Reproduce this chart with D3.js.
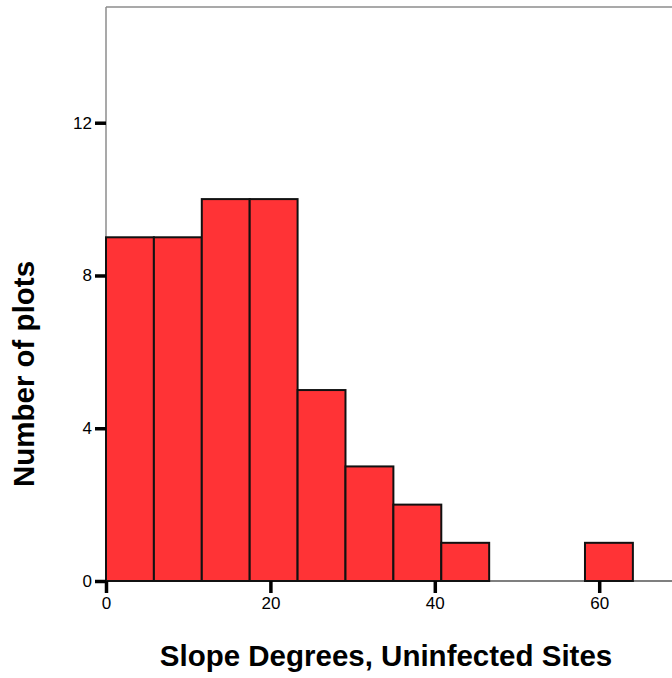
<!DOCTYPE html>
<html>
<head>
<meta charset="utf-8">
<script src="https://cdn.jsdelivr.net/npm/d3@7"></script>
<style>
  html, body { margin: 0; padding: 0; background: #fff; }
  svg { display: block; font-family: "Liberation Sans", Arial, Helvetica, sans-serif; }
</style>
</head>
<body>
<svg id="chart" width="672" height="678"></svg>
<script>
// Histogram of slope degrees at uninfected sites
const binWidth = 5.827;
const binStarts = [0, 1, 2, 3, 4, 5, 6, 7, 8, 9, 10].map(i => i * binWidth);
const counts = [9, 9, 10, 10, 5, 3, 2, 1, 0, 0, 1];
const xTicks = [0, 20, 40, 60];
const yTicks = [0, 4, 8, 12];
const xTitle = "Slope Degrees, Uninfected Sites";
const yTitle = "Number of plots";

const svg = d3.select("#chart");
const plotLeft = 106, plotBottom = 581, plotTop = 7;
const pxPerUnit = 8.22;
const xMax = 70;

const x = d3.scaleLinear().domain([0, xMax]).range([plotLeft, plotLeft + xMax * pxPerUnit]);
const y = d3.scaleLinear().domain([0, 15.03]).range([plotBottom, plotTop]);

// Plot frame
svg.append("line").attr("x1", plotLeft).attr("x2", 680).attr("y1", plotTop).attr("y2", plotTop)
  .attr("stroke", "#8c8c8c").attr("stroke-width", 1.5);
svg.append("line").attr("x1", plotLeft).attr("x2", plotLeft).attr("y1", plotTop).attr("y2", plotBottom)
  .attr("stroke", "#8c8c8c").attr("stroke-width", 1.5);
svg.append("line").attr("x1", plotLeft).attr("x2", 680).attr("y1", plotBottom).attr("y2", plotBottom)
  .attr("stroke", "#555").attr("stroke-width", 1.5);

// Bars
const bins = binStarts.map((s, i) => ({ x0: s, x1: s + binWidth, n: counts[i] })).filter(d => d.n > 0);
svg.append("g").selectAll("rect").data(bins).join("rect")
  .attr("x", d => x(d.x0))
  .attr("y", d => y(d.n))
  .attr("width", d => x(d.x1) - x(d.x0))
  .attr("height", d => y(0) - y(d.n))
  .attr("fill", "#ff3336")
  .attr("stroke", "#111")
  .attr("stroke-width", 2);

// Axes
const xAxis = svg.append("g").attr("transform", `translate(0,${plotBottom})`)
  .call(d3.axisBottom(x).tickValues(xTicks).tickSize(12).tickPadding(4).tickFormat(d3.format("d")));
const yAxis = svg.append("g").attr("transform", `translate(${plotLeft},0)`)
  .call(d3.axisLeft(y).tickValues(yTicks).tickSize(11).tickPadding(3).tickFormat(d3.format("d")));
[xAxis, yAxis].forEach(g => {
  g.select(".domain").remove();
  g.selectAll(".tick line").attr("stroke", "#000").attr("stroke-width", 3.5);
  g.selectAll(".tick text").attr("fill", "#000").style("font-size", "17px")
    .style("font-family", "'Liberation Sans', Arial, sans-serif");
});

// Axis titles
svg.append("text").attr("x", 386).attr("y", 666).attr("text-anchor", "middle")
  .style("font-size", "29.5px").style("font-weight", "bold").text(xTitle);
svg.append("text").attr("transform", "translate(34,374) rotate(-90)").attr("text-anchor", "middle")
  .style("font-size", "29.5px").style("font-weight", "bold").text(yTitle);
</script>
</body>
</html>
